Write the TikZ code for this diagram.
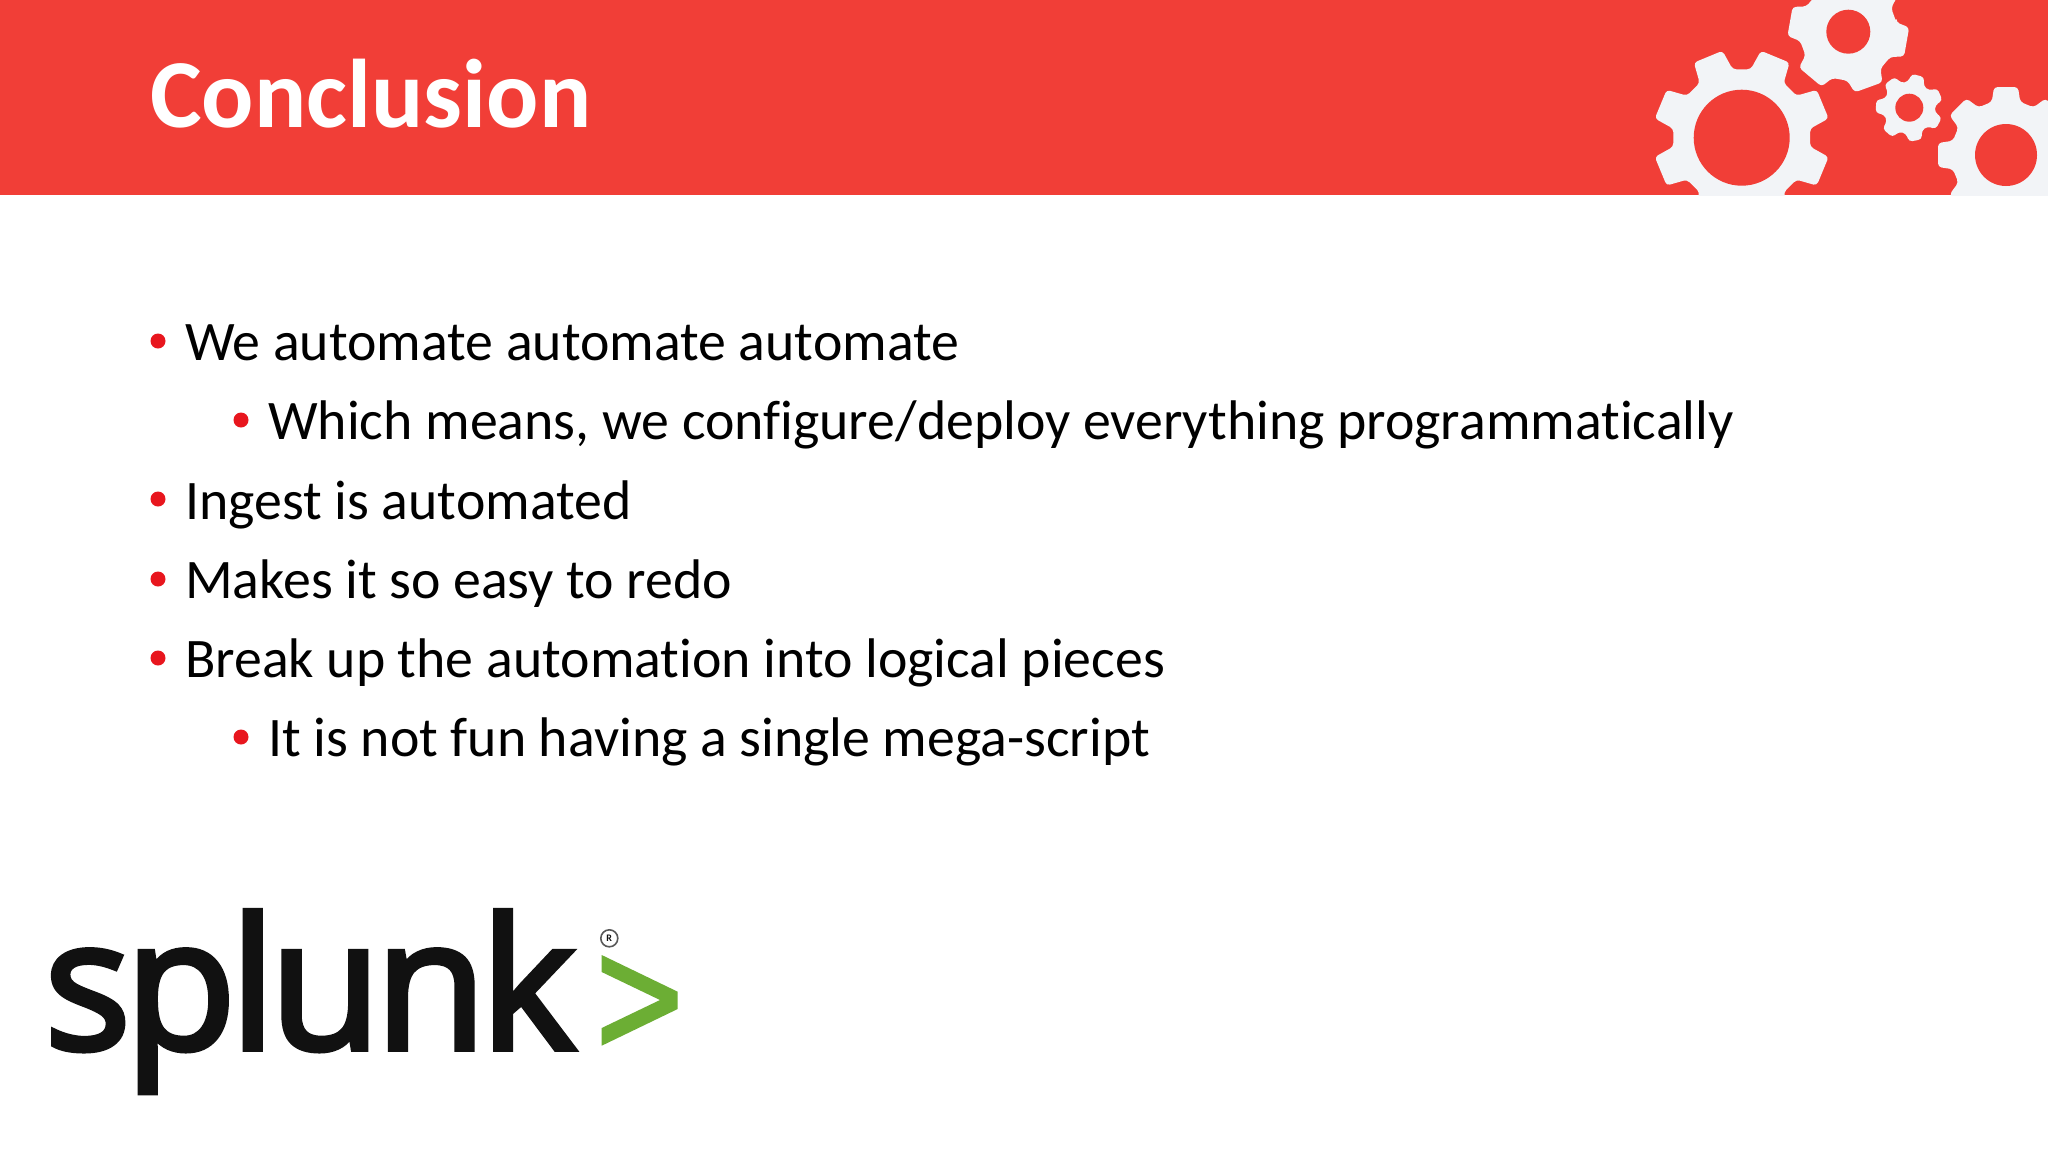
\documentclass[tikz,border=0pt]{standalone}
\usepackage{fontspec}
\setmainfont[Ligatures=NoCommon]{Carlito}
\newfontfamily\logofont[FakeBold=3]{Open Sans}
\usetikzlibrary{calc}
\definecolor{barred}{HTML}{F13E37}
\definecolor{gearwhite}{HTML}{F2F4F7}
\definecolor{bulletred}{HTML}{E8161E}
\definecolor{logogreen}{HTML}{6CAE34}
\definecolor{logoblack}{HTML}{111111}
% cx cy root outer a1 a2 start count
\newcommand{\gearshape}[8]{%
 \pgfmathsetmacro{\gstep}{360/#8}
 \fill[gearwhite,rounded corners=3.5pt] ($(#1,#2)+(#7-#5:#3)$)
   \foreach \k in {1,...,#8} {
     -- ($(#1,#2)+(#7+\gstep*\k-\gstep-#5:#3)$)
     -- ($(#1,#2)+(#7+\gstep*\k-\gstep-#6:#4)$)
     -- ($(#1,#2)+(#7+\gstep*\k-\gstep+#6:#4)$)
     -- ($(#1,#2)+(#7+\gstep*\k-\gstep+#5:#3)$)
   } -- cycle;
}
\tikzset{
  bodytext/.style={anchor=base west,inner sep=0pt,font=\fontsize{55.8}{56}\selectfont,text=black},
  titletext/.style={anchor=base west,inner sep=0pt,font=\fontsize{97.5}{98}\selectfont\bfseries,text=white},
  bulletdot/.style={circle,fill=bulletred,inner sep=0pt,minimum size=15pt},
  gearhole/.style={fill=barred}
}
\begin{document}
\begin{tikzpicture}[x=1pt,y=-1pt]
\useasboundingbox (0,0) rectangle (2048,1152);
\fill[white] (0,0) rectangle (2048,1152);
\fill[barred] (0,0) rectangle (2048,195);
\begin{scope}
\clip (0,0) rectangle (2048,195);
\gearshape{1741.7}{137.7}{69}{89}{15}{10}{22.5}{8}
\gearshape{1848.3}{31.7}{49}{61}{21}{14}{10}{6}
\gearshape{1909.3}{107.7}{26}{34}{18}{11}{28}{7}
\gearshape{2006}{155}{55}{69}{15}{10}{0}{8}
\fill[gearhole] (1741.7,137.7) circle[radius=48];
\fill[gearhole] (1848.3,31.7) circle[radius=22];
\fill[gearhole] (1909.3,107.7) circle[radius=14];
\fill[gearhole] (2006,155) circle[radius=31];
\end{scope}
\node[titletext] (title) at (150,127) {Conclusion};
\node[bodytext] (l1) at (185,360.5) {We automate automate automate};
\node[bodytext] (l2) at (268,439.5) {Which means, we configure/deploy everything programmatically};
\node[bodytext] (l3) at (185,519) {Ingest is automated};
\node[bodytext] (l4) at (185,598) {Makes it so easy to redo};
\node[bodytext] (l5) at (185,677.5) {Break up the automation into logical pieces};
\node[bodytext] (l6) at (268,756.5) {It is not fun having a single mega-script};
\node[bulletdot] (b1) at (158,341) {};
\node[bulletdot] (b2) at (241,420) {};
\node[bulletdot] (b3) at (158,499) {};
\node[bulletdot] (b4) at (158,579) {};
\node[bulletdot] (b5) at (158,658) {};
\node[bulletdot] (b6) at (241,737) {};
\node[anchor=base west,inner sep=0pt,font=\logofont\fontsize{182}{182}\selectfont,text=logoblack] (logo) at (44,1049) {\addfontfeature{LetterSpace=-3.5}splunk};
\fill[logogreen] (601.7,955) -- (677.7,991.7) -- (677.7,1009) -- (601.7,1045.7) -- (601.7,1028) -- (660,1000) -- (601.7,972) -- cycle;
\node[circle,draw=logoblack!70,line width=1.6pt,inner sep=0pt,minimum size=17pt,font=\fontsize{10}{10}\selectfont\bfseries,text=logoblack] (reg) at (609.3,938.3) {R};
\end{tikzpicture}
\end{document}
